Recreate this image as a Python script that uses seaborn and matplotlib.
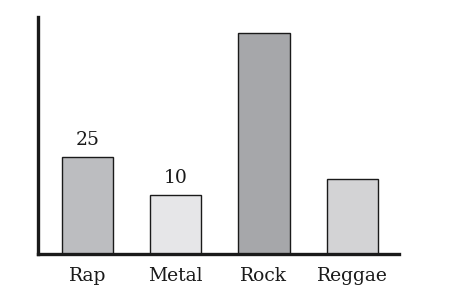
import matplotlib
matplotlib.use("Agg")
import matplotlib.pyplot as plt
import seaborn as sns
import pandas as pd

genres = ["Rap", "Metal", "Rock", "Reggae"]
# bar heights as drawn in the picture (not to scale with the printed labels)
heights = [25, 15.2, 57, 19.3]
value_labels = ["25", "10", "", ""]
colors = ["#bcbdc0", "#e6e6e8", "#a6a7aa", "#d3d3d5"]

sns.set_style("white")
plt.rcParams['font.family'] = ['DejaVu Serif']

df = pd.DataFrame({"genre": genres, "height": heights})

fig = plt.figure(figsize=(4.70, 3.08), dpi=100)
ax = fig.add_axes([38/470, 54/308, (399-38)/470, (254-17)/308])

sns.barplot(data=df, x="genre", y="height", hue="genre", palette=colors,
            width=0.58, edgecolor="#1a1a1a", linewidth=1.0, legend=False,
            saturation=1, ax=ax)

for i, (h, lab) in enumerate(zip(heights, value_labels)):
    if lab:
        ax.text(i, h + 2.0, lab, ha="center", va="bottom", fontsize=13.5,
                color="#1a1a1a")

ax.set_xlim(-0.56, 3.53)
ax.set_ylim(0, 61.1)
ax.set_xlabel("")
ax.set_ylabel("")
ax.set_yticks([])
ax.tick_params(axis="x", length=0, pad=9.5, labelsize=13.5, colors="#1a1a1a")
for s in ["top", "right"]:
    ax.spines[s].set_visible(False)
for s in ["left", "bottom"]:
    ax.spines[s].set_linewidth(2.4)
    ax.spines[s].set_color("#1a1a1a")

fig.savefig("out.png", dpi=100)
